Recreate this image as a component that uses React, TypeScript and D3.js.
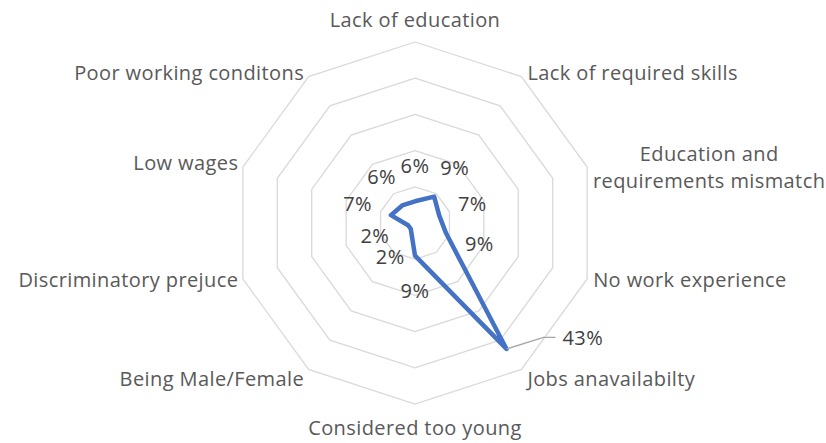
import React from "react";
import * as d3 from "d3";

const categories = [
  "Lack of education",
  "Lack of required skills",
  "Education and requirements mismatch",
  "No work experience",
  "Jobs anavailabilty",
  "Considered too young",
  "Being Male/Female",
  "Discriminatory prejuce",
  "Low wages",
  "Poor working conditons",
];
const values = [6, 9, 7, 9, 43, 9, 2, 2, 7, 6];
const ringTicks = [10, 20, 30, 40, 50];

const W = 826;
const H = 443;
const CX = 415;
const CY = 223;
const R = 181;
const FONT = "'Open Sans', Lato, sans-serif";
const FS = 20;
const LS = 0.4;

function wrap(label: string): string[] {
  if (label.length <= 30) return [label];
  const mid = label.length / 2;
  let best = -1;
  let bestD = Infinity;
  for (let i = 0; i < label.length; i++) {
    if (label[i] === " " && Math.abs(i - mid) < bestD) {
      bestD = Math.abs(i - mid);
      best = i;
    }
  }
  return [label.slice(0, best), label.slice(best + 1)];
}

export default function App() {
  const n = categories.length;
  const angle = d3
    .scaleLinear()
    .domain([0, n])
    .range([0, 2 * Math.PI]);
  const r = d3.scaleLinear().domain([0, 50]).range([0, R]);
  const pt = (i: number, v: number): [number, number] => {
    const a = angle(i);
    return [CX + r(v) * Math.sin(a), CY - r(v) * Math.cos(a)];
  };

  const ringPath = (v: number) =>
    d3.line()(d3.range(n + 1).map((i) => pt(i % n, v))) as string;

  const dataPath = d3.line().curve(d3.curveLinearClosed)(
    values.map((v, i) => pt(i, v))
  ) as string;

  const lineH = 27.6;

  return (
    <svg
      width={W}
      height={H}
      style={{ position: "absolute", left: 0, top: 0, background: "#fff" }}
    >
      <g>
        {ringTicks.map((t) => (
          <path key={t} d={ringPath(t)} fill="none" stroke="#d9d9d9" strokeWidth={1.3} />
        ))}
      </g>
      <path
        d={dataPath}
        fill="none"
        stroke="#4472c4"
        strokeWidth={4.5}
        strokeLinejoin="round"
      />
      {/* category labels */}
      <g fontFamily={FONT} fontSize={FS} letterSpacing={LS} fill="#595959">
        {categories.map((c, i) => {
          const a = angle(i);
          const s = Math.sin(a);
          const co = Math.cos(a);
          const [vx, vy] = pt(i, 50);
          const lines = wrap(c);
          let x = vx;
          let y = vy;
          let anchor: "start" | "middle" | "end" = "middle";
          if (Math.abs(s) < 0.1) {
            y = co > 0 ? vy - 15.3 : vy + 31;
          } else {
            anchor = s > 0 ? "start" : "end";
            x = vx + (s > 0 ? 6 : -4.5);
            y = vy + (co >= 0 ? 3 : 3 + (13.6 * -co) / 0.809);
          }
          if (lines.length > 1) {
            const w = 228;
            anchor = "middle";
            x = s > 0 ? vx + 8 + w / 2 : vx - 8 - w / 2;
            y = vy + 7.4 - ((lines.length - 1) * lineH) / 2;
          }
          return (
            <text key={c} x={x} y={y} textAnchor={anchor}>
              {lines.map((l, k) => (
                <tspan key={k} x={x} dy={k === 0 ? 0 : lineH}>
                  {l}
                </tspan>
              ))}
            </text>
          );
        })}
      </g>
      {/* data labels */}
      <g fontFamily={FONT} fontSize={FS} letterSpacing={LS} fill="#404040">
        {values.map((v, i) => {
          const a = angle(i);
          const [px, py] = pt(i, v);
          if (v > 30) {
            const ex = px + 37;
            const ey = py - 11.5;
            return (
              <g key={i}>
                <polyline
                  points={`${px},${py} ${ex},${ey} ${ex + 12},${ey}`}
                  fill="none"
                  stroke="#a6a6a6"
                  strokeWidth={1.3}
                />
                <text x={ex + 19} y={ey + 7.4} textAnchor="start">
                  {v}%
                </text>
              </g>
            );
          }
          const lx = px + 35 * Math.sin(a);
          const ly = py - 35 * Math.cos(a);
          return (
            <text key={i} x={lx} y={ly + 7} textAnchor="middle">
              {v}%
            </text>
          );
        })}
      </g>
    </svg>
  );
}
